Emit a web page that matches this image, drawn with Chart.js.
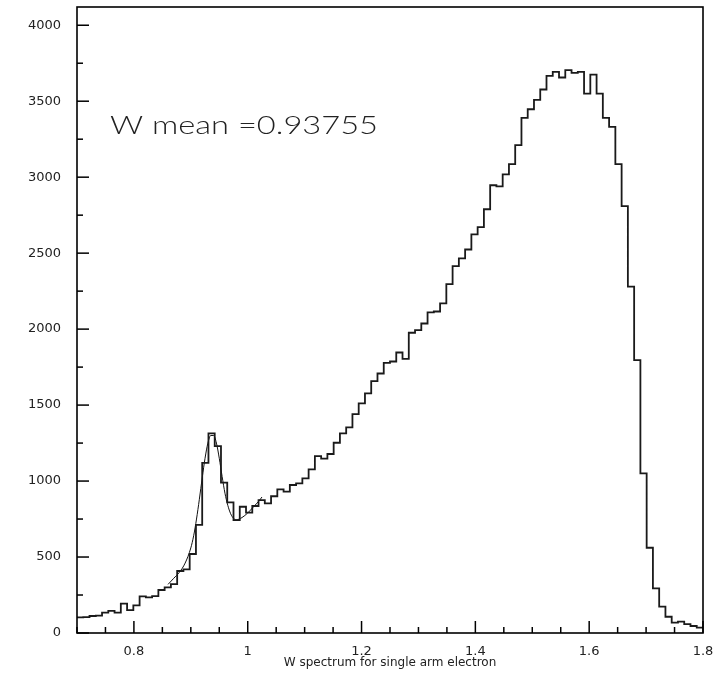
<!DOCTYPE html>
<html>
<head>
<meta charset="utf-8">
<script src="https://cdn.jsdelivr.net/npm/chart.js@4.4.1/dist/chart.umd.min.js"></script>
<style>
html,body{margin:0;padding:0;background:#fff;}
#wrap{width:723px;height:695px;position:relative;}
canvas{display:block;}
</style>
</head>
<body>
<div id="wrap"><canvas id="c" width="723" height="695"></canvas></div>
<script>
// ---- data ----
const binLow = 0.7;
const binWidth = 0.011;
const counts = [
  103, 105, 112, 115, 134, 145, 134, 193, 151, 182,
  241, 235, 243, 283, 300, 322, 408, 419, 520, 711,
  1120, 1314, 1230, 990, 860, 743, 831, 792, 836, 875,
  853, 900, 945, 930, 974, 985, 1018, 1077, 1164, 1147,
  1178, 1252, 1314, 1353, 1441, 1511, 1577, 1658, 1708, 1778,
  1787, 1846, 1804, 1976, 1993, 2037, 2110, 2116, 2169, 2296,
  2414, 2465, 2524, 2623, 2671, 2789, 2947, 2940, 3018, 3086,
  3211, 3390, 3447, 3509, 3577, 3667, 3693, 3656, 3704, 3686,
  3693, 3550, 3675, 3550, 3390, 3331, 3086, 2810, 2279, 1796,
  1050, 561, 294, 173, 107, 68, 75, 59, 46, 35
];
const fitW = [0.86, 0.87, 0.88, 0.89, 0.90, 0.905, 0.91, 0.915, 0.92, 0.925, 0.93, 0.935, 0.94, 0.945, 0.95, 0.955, 0.96, 0.965, 0.97, 0.975, 0.98, 0.99, 1.0, 1.01, 1.02, 1.025];
const fitV = [320, 360, 400, 460, 560, 640, 750, 880, 1020, 1150, 1250, 1300, 1300, 1250, 1150, 1030, 920, 840, 785, 755, 745, 760, 790, 830, 870, 895];
const xTickValues = [0.8, 1.0, 1.2, 1.4, 1.6, 1.8];
const xTickLabels = ['0.8', '1', '1.2', '1.4', '1.6', '1.8'];
const yTickValues = [0, 500, 1000, 1500, 2000, 2500, 3000, 3500, 4000];
const yTickLabels = ['0', '500', '1000', '1500', '2000', '2500', '3000', '3500', '4000'];
const xMin = 0.7, xMax = 1.8, yMin = 0, yMax = 4120;
const annotationText = 'W mean =0.93755';
const annotationPos = {x: 0.758, y: 3336};
const xTitle = 'W spectrum for single arm electron';

// ---- build datasets ----
const histPoints = counts.map((v, i) => ({x: binLow + i * binWidth, y: v}));
histPoints.push({x: binLow + counts.length * binWidth, y: counts[counts.length - 1]});
const fitPoints = fitW.map((w, i) => ({x: w, y: fitV[i]}));

function findLabel(vals, labels, value) {
  for (let k = 0; k < vals.length; k++) {
    if (Math.abs(vals[k] - value) < 1e-6) return labels[k];
  }
  return '';
}

const frameAndTicks = {
  id: 'frameAndTicks',
  afterDraw(chart) {
    const {ctx, scales: {x, y}} = chart;
    const L = x.getPixelForValue(xMin), R = x.getPixelForValue(xMax);
    const T = y.getPixelForValue(yMax), B = y.getPixelForValue(yMin);
    ctx.save();
    ctx.strokeStyle = '#000000';
    ctx.lineWidth = 1.6;
    ctx.strokeRect(L, T, R - L, B - T);
    ctx.lineWidth = 1.5;
    for (const t of x.ticks) {
      const px = x.getPixelForValue(t.value);
      const len = findLabel(xTickValues, xTickLabels, t.value) !== '' ? 12 : 6;
      ctx.beginPath(); ctx.moveTo(px, B); ctx.lineTo(px, B - len); ctx.stroke();
    }
    for (const t of y.ticks) {
      const py = y.getPixelForValue(t.value);
      const len = findLabel(yTickValues, yTickLabels, t.value) !== '' ? 12 : 6;
      ctx.beginPath(); ctx.moveTo(L, py); ctx.lineTo(L + len, py); ctx.stroke();
    }
    ctx.restore();
    // annotation text
    ctx.save();
    const tx = x.getPixelForValue(annotationPos.x);
    const ty = y.getPixelForValue(annotationPos.y);
    ctx.font = '300 25px Lato, "DejaVu Sans", sans-serif';
    ctx.fillStyle = '#222';
    ctx.textBaseline = 'middle';
    ctx.textAlign = 'left';
    const w = ctx.measureText(annotationText).width;
    ctx.translate(tx, ty);
    ctx.scale(268 / w, 1);
    ctx.fillText(annotationText, 0, 0);
    ctx.restore();
  }
};

new Chart(document.getElementById('c'), {
  type: 'line',
  data: {
    datasets: [
      {data: histPoints, stepped: 'before', borderColor: '#1a1a1a', borderWidth: 1.8, pointRadius: 0, fill: false},
      {data: fitPoints, borderColor: '#111', borderWidth: 1, pointRadius: 0, cubicInterpolationMode: 'monotone', fill: false}
    ]
  },
  options: {
    responsive: false,
    animation: false,
    devicePixelRatio: 1,
    layout: {padding: {left: 0, top: 7, right: 20, bottom: 0}},
    plugins: {legend: {display: false}, tooltip: {enabled: false}, title: {display: false}},
    scales: {
      x: {
        type: 'linear', min: xMin, max: xMax,
        grid: {display: false, drawTicks: false},
        border: {display: false},
        ticks: {stepSize: 0.05, includeBounds: false, autoSkip: false, maxRotation: 0, padding: 11, color: '#222',
          font: {family: '"DejaVu Sans", sans-serif', size: 13},
          callback: (v) => findLabel(xTickValues, xTickLabels, v)},
        title: {display: true, text: xTitle, color: '#222', font: {family: '"DejaVu Sans", sans-serif', size: 12}, padding: {top: 0, bottom: 25}},
        afterFit: (s) => { s.height = 62; s.paddingLeft = 0; s.paddingRight = 0; }
      },
      y: {
        type: 'linear', min: yMin, max: yMax,
        grid: {display: false, drawTicks: false},
        border: {display: false},
        ticks: {stepSize: 250, includeBounds: false, autoSkip: false, padding: 16, color: '#222',
          font: {family: '"DejaVu Sans", sans-serif', size: 13},
          callback: (v) => findLabel(yTickValues, yTickLabels, v)},
        afterFit: (s) => { s.width = 77; s.paddingTop = 0; s.paddingBottom = 0; }
      }
    }
  },
  plugins: [frameAndTicks]
});
</script>
</body>
</html>
